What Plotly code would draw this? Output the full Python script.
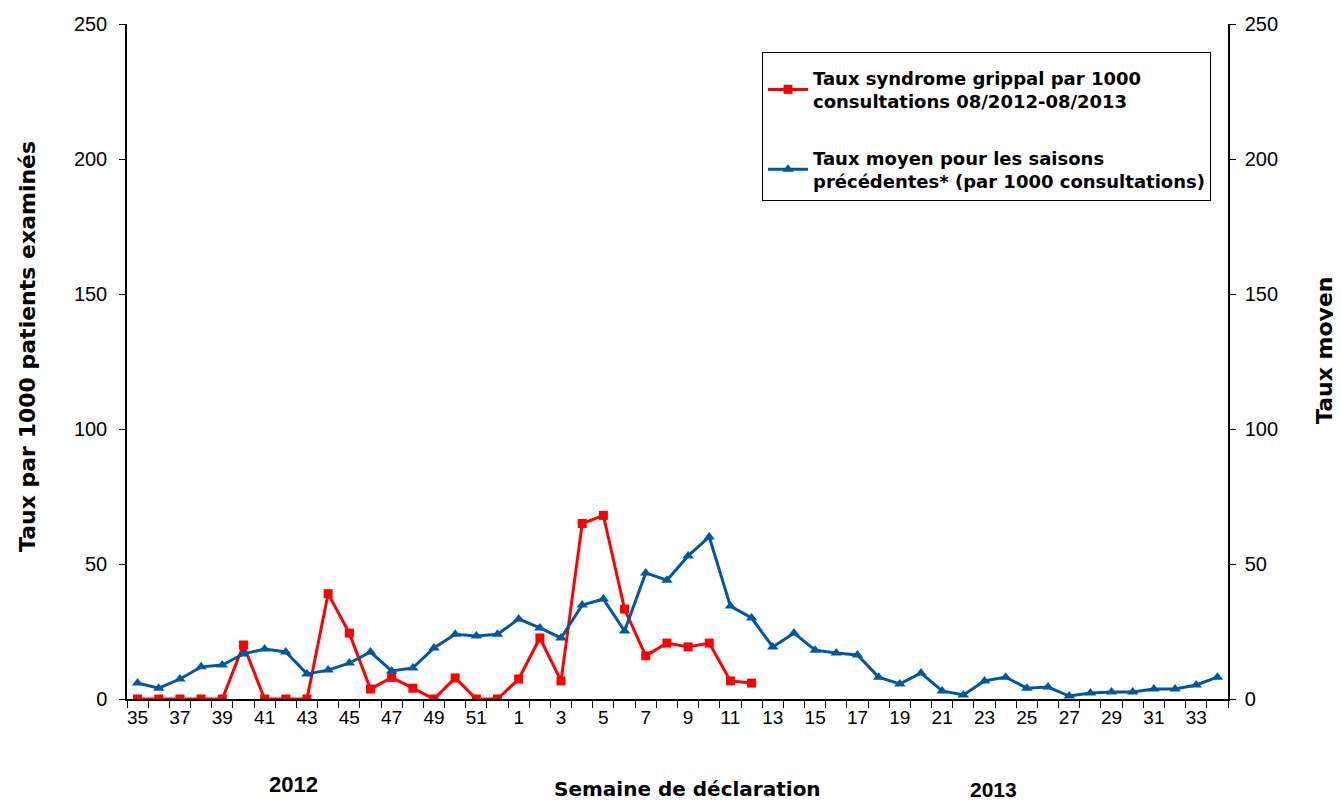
import plotly.graph_objects as go

weeks = [str(w) for w in list(range(35, 53)) + list(range(1, 35))]
tick_labels = [w if i % 2 == 0 else "" for i, w in enumerate(weeks)]

taux_2012_2013 = [0, 0, 0, 0, 0, 20, 0, 0, 0, 39, 24.4, 3.7, 8, 4, 0, 7.8, 0, 0,
                  7.4, 22.6, 6.7, 65, 68, 33.3, 16, 20.7, 19.3, 20.7, 6.7, 5.9]
taux_moyen = [5.9, 4, 7.4, 11.9, 12.6, 16.7, 18.5, 17.4, 9.3, 10.7, 13.3, 17.4, 10.4, 11.5,
              18.9, 24, 23.3, 24, 29.6, 26.3, 22.6, 34.8, 37, 25.2, 46.7, 44, 53, 60, 34.4,
              30, 19.3, 24.4, 18.1, 17, 16.3, 8.1, 5.6, 9.6, 3, 1.5, 6.7, 8.1, 4, 4.4, 1.1,
              2.2, 2.6, 2.6, 3.7, 3.7, 5.2, 8.1]

name_red = "<b>Taux syndrome grippal par 1000<br>consultations 08/2012-08/2013</b>"
name_blue = "<b>Taux moyen pour les saisons<br>précédentes* (par 1000 consultations)</b>"

FONT = "Liberation Sans, Arial, sans-serif"
WIDE = "DejaVu Sans, Verdana, sans-serif"

fig = go.Figure()
fig.add_trace(go.Scatter(
    x=weeks[:len(taux_2012_2013)], y=taux_2012_2013, name=name_red, legendgroup="a",
    mode="lines+markers", line=dict(color="#FF0000", width=3),
    marker=dict(symbol="square", size=9, color="#FF0000")))
fig.add_trace(go.Scatter(
    x=weeks, y=taux_moyen, name=name_blue, legendgroup="b", yaxis="y2",
    mode="lines+markers", line=dict(color="#0057A4", width=3),
    marker=dict(symbol="triangle-up", size=10, color="#0057A4")))

axis_common = dict(range=[0, 250], tickvals=[0, 50, 100, 150, 200, 250], showgrid=False,
                   zeroline=False, showline=True, linecolor="black", linewidth=1.5,
                   ticks="outside", ticklen=6, tickcolor="black", automargin=False,
                   tickfont=dict(family=FONT, size=20, color="black"))

# page has an 8px body margin; figure sized to fill the 1341x804 window
L, R, T, B = 119, 113, 16, 105
W, H = 1333, 796
PW = W - L - R
PH = H - T - B


def px(x):
    return (x - 8 - L) / PW


def py(y):
    return (8 + T + PH - y) / PH


ann_common = dict(xref="paper", yref="paper", showarrow=False,
                  xanchor="center", yanchor="middle")

fig.update_layout(
    width=W, height=H,
    margin=dict(l=L, r=R, t=T, b=B, autoexpand=False),
    plot_bgcolor="white", paper_bgcolor="white",
    font=dict(family=FONT, color="black"),
    xaxis=dict(type="category", categoryorder="array", categoryarray=weeks,
               tickvals=weeks, ticktext=tick_labels, tickson="boundaries",
               ticks="outside", ticklen=7, tickcolor="black", tickangle=0,
               showline=True, linecolor="black", linewidth=2, showgrid=False,
               automargin=False, range=[-0.5, len(weeks) - 0.5],
               tickfont=dict(family=FONT, size=19, color="black")),
    yaxis=dict(**axis_common, ticklabelstandoff=8),
    yaxis2=dict(**axis_common, overlaying="y", side="right", anchor="x",
                ticklabelstandoff=5),
    legend=dict(x=px(762), y=py(52), xanchor="left", yanchor="top",
                bgcolor="white", bordercolor="black", borderwidth=1,
                font=dict(family=WIDE, size=18, color="black"),
                title=dict(text=" ", font=dict(size=5)),
                tracegroupgap=30, itemwidth=40),
    annotations=[
        dict(text="<b>Taux par 1000 patients examinés</b>", textangle=-90,
             x=px(27), y=py(347), font=dict(family=WIDE, size=22, color="black"),
             **ann_common),
        dict(text="<b>Taux moyen</b>", textangle=-90,
             x=px(1324), y=py(350), font=dict(family=WIDE, size=22, color="black"),
             **ann_common),
        dict(text="<b>2012</b>", x=px(293), y=py(784),
             font=dict(family=FONT, size=22, color="black"), **ann_common),
        dict(text="<b>Semaine de déclaration</b>", x=px(687), y=py(789),
             font=dict(family=WIDE, size=20, color="black"), **ann_common),
        dict(text="<b>2013</b>", x=px(993), y=py(789),
             font=dict(family=FONT, size=21, color="black"), **ann_common),
    ],
)

fig.write_html("out.html")
